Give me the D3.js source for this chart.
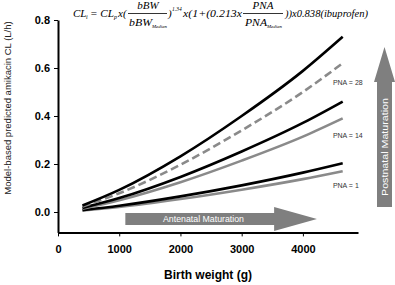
<!DOCTYPE html>
<html>
<head>
<meta charset="utf-8">
<script src="https://cdn.jsdelivr.net/npm/d3@7"></script>
<style>
  body { margin: 0; background: #fff; }
  svg { display: block; font-family: "Liberation Sans", Arial, sans-serif; }
  .axis path, .axis line { stroke: #000; }
  .axis text { font-weight: bold; font-size: 11px; fill: #000; }
  .eq { font-family: "Liberation Serif", "Times New Roman", serif; font-style: italic; fill: #000; }
</style>
</head>
<body>
<div id="chart"></div>
<script>
// birth weight (g) at which the curves were read
const BW = [400, 1000, 2000, 3000, 4000, 4650];

// predicted CL (L/h)
const PNA28 = [0.027, 0.092, 0.232, 0.40, 0.588, 0.73];
const PNA28_IBU = [0.023, 0.078, 0.197, 0.34, 0.50, 0.62];
const PNA14 = [0.017, 0.058, 0.146, 0.252, 0.371, 0.46];
const PNA14_IBU = [0.014, 0.049, 0.124, 0.214, 0.314, 0.39];
const PNA1 = [0.0075, 0.026, 0.065, 0.111, 0.164, 0.203];
const PNA1_IBU = [0.006, 0.021, 0.054, 0.093, 0.137, 0.17];

const X_TICKS = [0, 1000, 2000, 3000, 4000];
const Y_TICKS = [0.0, 0.2, 0.4, 0.6, 0.8];

const PNA_LABELS = ['PNA = 28', 'PNA = 14', 'PNA = 1'];
const PNA_LABEL_Y = [0.54, 0.32, 0.1125];

const BLACK = '#000';
const GREY = '#8a8a8a';
const ARROW = '#7f7f7f';

const w = 395, h = 285;
const svg = d3.select('#chart').append('svg')
  .attr('width', w).attr('height', h);

const x = d3.scaleLinear().domain([0, 4900]).range([58, 358]);
const y = d3.scaleLinear().domain([-0.085, 0.8]).range([232.4, 20]);

// axes
svg.append('g')
  .attr('class', 'axis')
  .attr('transform', `translate(0,${y(-0.085)})`)
  .call(d3.axisBottom(x).tickValues(X_TICKS).tickSize(4).tickSizeOuter(0).tickPadding(9).tickFormat(d3.format('d')))
  .call(g => g.select('.domain').attr('stroke-width', 2));

svg.append('g')
  .attr('class', 'axis')
  .attr('transform', `translate(${x(0)},0)`)
  .call(d3.axisLeft(y).tickValues(Y_TICKS).tickSize(4).tickSizeOuter(0).tickPadding(4).tickFormat(d3.format('.1f')))
  .call(g => g.select('.domain').attr('stroke-width', 2));

svg.append('text')
  .attr('x', 208).attr('y', 279)
  .attr('text-anchor', 'middle')
  .attr('font-weight', 'bold').attr('font-size', '12px')
  .text('Birth weight (g)');

svg.append('text')
  .attr('transform', 'rotate(-90)')
  .attr('x', -108).attr('y', 11)
  .attr('text-anchor', 'middle')
  .attr('font-size', '9.5px')
  .attr('fill', '#222')
  .text('Model-based predicted amikacin CL (L/h)');

// antenatal arrow
const ax0 = x(1100), ax1 = x(3530), axTip = x(4230), ay = y(-0.029);
svg.append('path')
  .attr('d', `M${ax0},${ay - 6}H${ax1}V${ay - 12}L${axTip},${ay}L${ax1},${ay + 12}V${ay + 6}H${ax0}Z`)
  .attr('fill', ARROW);
svg.append('text')
  .attr('x', 203.5).attr('y', ay + 3)
  .attr('text-anchor', 'middle')
  .attr('font-size', '8.5px').attr('fill', '#fff')
  .attr('textLength', 81).attr('lengthAdjust', 'spacingAndGlyphs')
  .text('Antenatal Maturation');

// postnatal arrow
const vx = 384.5, vy0 = 207, vy1 = 82, vyTip = 47;
svg.append('path')
  .attr('d', `M${vx - 7.5},${vy0}V${vy1}H${vx - 10.5}L${vx},${vyTip}L${vx + 10.5},${vy1}H${vx + 7.5}V${vy0}Z`)
  .attr('fill', ARROW);
svg.append('text')
  .attr('transform', `translate(${vx + 3.5},147) rotate(-90)`)
  .attr('text-anchor', 'middle')
  .attr('font-size', '9.5px').attr('fill', '#fff')
  .attr('textLength', 98).attr('lengthAdjust', 'spacingAndGlyphs')
  .text('Postnatal Maturation');

// curves
const line = d3.line()
  .x((d, i) => x(BW[i]))
  .y(d => y(d))
  .curve(d3.curveMonotoneX);

const series = [
  { v: PNA1_IBU, c: GREY },
  { v: PNA1, c: BLACK },
  { v: PNA14_IBU, c: GREY },
  { v: PNA14, c: BLACK },
  { v: PNA28_IBU, c: GREY, dash: '8,4' },
  { v: PNA28, c: BLACK },
];

svg.selectAll('path.curve')
  .data(series)
  .join('path')
  .attr('class', 'curve')
  .attr('fill', 'none')
  .attr('stroke', d => d.c)
  .attr('stroke-width', 2.6)
  .attr('stroke-dasharray', d => d.dash || null)
  .attr('d', d => line(d.v));

svg.selectAll('text.pna')
  .data(PNA_LABELS)
  .join('text')
  .attr('class', 'pna')
  .attr('x', x(4490))
  .attr('y', (d, i) => y(PNA_LABEL_Y[i]) + 2.5)
  .attr('font-size', '7px')
  .attr('fill', '#333')
  .text(d => d);

// equation
const eq = svg.append('g').attr('class', 'eq');
function t(str, xp, yp, size, opts = {}) {
  const el = eq.append('text').attr('x', xp).attr('y', yp).attr('font-size', size + 'px').text(str);
  if (opts.anchor) el.attr('text-anchor', opts.anchor);
  if (opts.len) el.attr('textLength', opts.len).attr('lengthAdjust', 'spacingAndGlyphs');
  return el;
}
t('CL', 73, 16.5, 11);
t('i', 86, 18.5, 6);
t('= CL', 90, 16.5, 11, { len: 24 });
t('p', 114, 18.5, 6);
t('x(', 118, 16.5, 11);
t('bBW', 148, 9, 11, { anchor: 'middle' });
eq.append('line').attr('x1', 128).attr('x2', 167).attr('y1', 13.5).attr('y2', 13.5).attr('stroke', '#000').attr('stroke-width', 0.8);
t('bBW', 129, 26, 11, { len: 23 });
t('Median', 152, 27.5, 5, { len: 15 });
t(')', 168, 16.5, 11);
t('1.34', 172, 10.5, 5.5);
t('x(1+(0.213x', 183, 16.5, 11, { len: 59 });
t('PNA', 263, 9, 11, { anchor: 'middle' });
eq.append('line').attr('x1', 243).attr('x2', 283).attr('y1', 13.5).attr('y2', 13.5).attr('stroke', '#000').attr('stroke-width', 0.8);
t('PNA', 245, 26, 11, { len: 22 });
t('Median', 267, 27.5, 5, { len: 15 });
t('))x0.838(ibuprofen)', 285, 16.5, 11, { len: 83 });
</script>
</body>
</html>
